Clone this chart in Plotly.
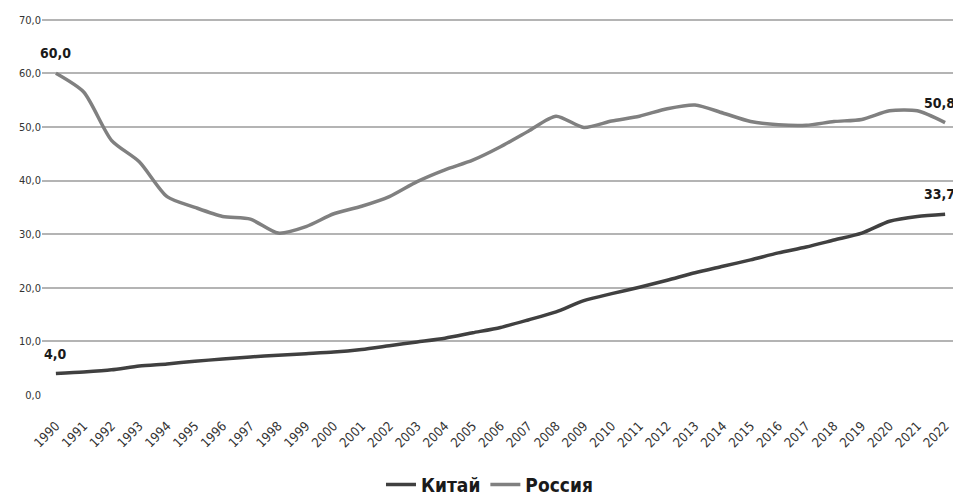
import plotly.graph_objects as go

years = [str(y) for y in range(1990, 2023)]
china = [4.0, 4.3, 4.7, 5.4, 5.8, 6.3, 6.7, 7.1, 7.4, 7.7, 8.0, 8.5, 9.2, 9.9, 10.6,
         11.6, 12.6, 14.0, 15.5, 17.6, 18.9, 20.1, 21.4, 22.8, 24.0, 25.2, 26.5, 27.6,
         28.9, 30.2, 32.4, 33.3, 33.7]
russia = [60.0, 56.5, 47.5, 43.5, 37.0, 35.0, 33.3, 32.8, 30.2, 31.4, 33.8, 35.2, 37.0,
          39.8, 42.0, 43.8, 46.3, 49.2, 52.0, 49.9, 51.1, 52.0, 53.4, 54.1, 52.6, 51.0,
          50.4, 50.3, 51.0, 51.4, 53.0, 53.0, 50.8]
series_names = ["Китай", "Россия"]
y_tickvals = [0, 10, 20, 30, 40, 50, 60, 70]
y_ticktext = ["0,0", "10,0", "20,0", "30,0", "40,0", "50,0", "60,0", "70,0"]

FONT = "DejaVu Sans Condensed, Liberation Sans Narrow, Roboto, sans-serif"
colors = ["#404040", "#808080"]

fig = go.Figure()
for name, vals, col in zip(series_names, [china, russia], colors):
    fig.add_trace(go.Scatter(x=years, y=vals, name=name, mode="lines",
                             line=dict(color=col, width=3.5, shape="spline", smoothing=0.7)))

def fmt(v):
    return f"{v:.1f}".replace(".", ",")

n = len(years)
ann = []
for vals in [china, russia]:
    ann.append(dict(x=0, y=vals[0], text="<b>" + fmt(vals[0]) + "</b>", showarrow=False,
                    xanchor="center", yanchor="bottom", yshift=10,
                    font=dict(family=FONT, size=14, color="#1a1a1a")))
    ann.append(dict(x=n - 1, y=vals[-1], text="<b>" + fmt(vals[-1]) + "</b>", showarrow=False,
                    xanchor="right", yanchor="bottom", xshift=12, yshift=10,
                    font=dict(family=FONT, size=14, color="#1a1a1a")))

# the page body adds an 8px offset, so the figure is sized to land on the same pixels
fig.update_layout(
    width=953, height=490,
    margin=dict(l=34, r=2, t=9, b=103),
    paper_bgcolor="white", plot_bgcolor="white",
    font=dict(family=FONT, color="#333333"),
    annotations=ann,
    showlegend=True,
    legend=dict(orientation="h", x=0.488, xanchor="center", yref="container",
                y=0.027, yanchor="middle",
                font=dict(family=FONT, size=19, color="#1a1a1a", weight="bold"),
                itemwidth=30, tracegroupgap=0),
    xaxis=dict(type="category", range=[-0.5, n - 0.5], tickangle=-45, showgrid=False,
               showline=False, ticks="", automargin=False, ticklabelstandoff=20,
               tickfont=dict(family=FONT, size=13, color="#333333")),
    yaxis=dict(range=[0, 70.5], tickvals=y_tickvals, ticktext=y_ticktext,
               showgrid=True, gridcolor="#b4b4b4", gridwidth=1.5, zeroline=False,
               showline=False, ticks="", automargin=False,
               tickfont=dict(family=FONT, size=11, color="#333333")),
)

fig.write_html("out.html")
